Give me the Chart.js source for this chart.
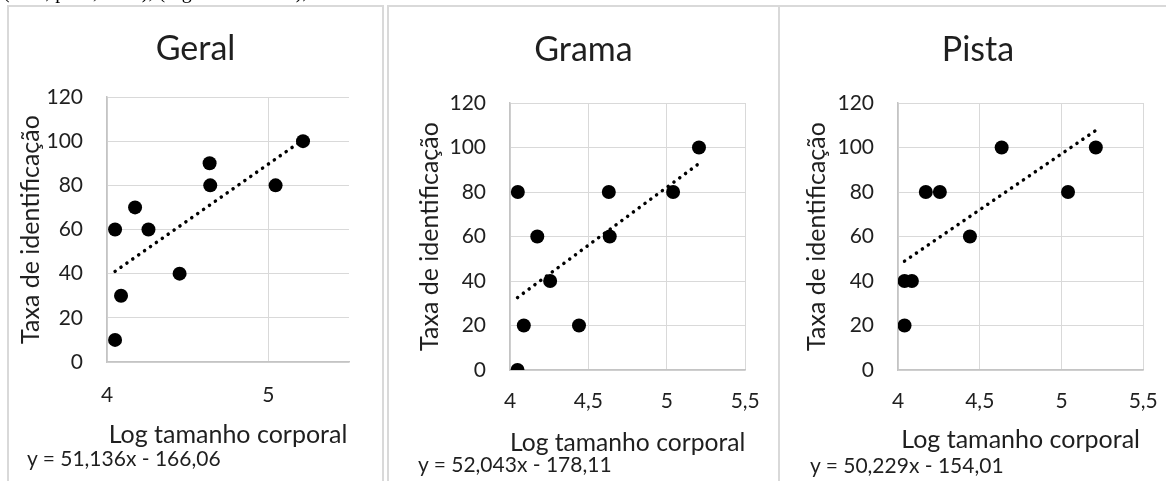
<!DOCTYPE html>
<html>
<head>
<meta charset="utf-8">
<script src="https://cdn.jsdelivr.net/npm/chart.js"></script>
<style>
  body { margin: 0; width: 1166px; height: 481px; overflow: hidden; background: #fff; position: relative; }
  .frame { position: absolute; top: 5px; height: 480px; border: 2px solid #d9d9d9; border-bottom: none; box-sizing: border-box; }
  .box { position: absolute; top: 7px; height: 474px; }
  .eq { position: absolute; font: 21px/24px Lato; color: #1f1f1f; white-space: nowrap; }
  .caption { position: absolute; left: 3px; top: -19.5px; font: 20px/20px "Liberation Serif"; white-space: nowrap; color: #000; will-change: transform; }
</style>
</head>
<body>
<div class="caption">(total, pista, areia), (Figura 10 até 12), e</div>

<div class="frame" style="left:7px;width:377px"></div>
<div class="frame" style="left:387px;width:393px"></div>
<div class="frame" style="left:778px;width:400px"></div>

<div class="box" style="left:9px;width:373px"><canvas id="geral"></canvas></div>
<div class="box" style="left:389px;width:389px"><canvas id="grama"></canvas></div>
<div class="box" style="left:780px;width:396px"><canvas id="pista"></canvas></div>

<div class="eq" id="eqGeral" style="left:27px;top:446px"></div>
<div class="eq" id="eqGrama" style="left:418px;top:452px"></div>
<div class="eq" id="eqPista" style="left:810px;top:453px"></div>

<script>
// dados
const titles = ["Geral", "Grama", "Pista"];

const xGeral = [4.05, 4.087, 4.05, 4.174, 4.257, 4.45, 4.636, 4.64, 5.045, 5.215];
const yGeral = [10, 30, 60, 70, 60, 40, 90, 80, 80, 100];

const xGrama = [4.048, 4.05, 4.088, 4.174, 4.256, 4.44, 4.63, 4.636, 5.04, 5.205];
const yGrama = [0, 80, 20, 60, 40, 20, 80, 60, 80, 100];

const xPista = [4.04, 4.04, 4.085, 4.17, 4.256, 4.44, 4.634, 5.04, 5.21];
const yPista = [20, 40, 40, 80, 80, 60, 100, 80, 100];

// linhas de tendência: y = a*x + b
const slopes = [51.136, 52.043, 50.229];
const intercepts = [-166.06, -178.11, -154.01];

const xTicksGeral = [4, 5];
const xTicksOther = [4, 4.5, 5, 5.5];
const yTicks = [0, 20, 40, 60, 80, 100, 120];

const textColor = '#1f1f1f';
const gridColor = '#d9d9d9';

function fmt(v, d) {
    return v.toFixed(d).replace('.', ',');
}

function makeChart(id, idx, xs, ys, xTicks, L) {
    const a = slopes[idx], b = intercepts[idx];
    const x0 = Math.min(...xs), x1 = Math.max(...xs);
    const pts = xs.map((x, i) => ({ x: x, y: ys[i] }));
    const trend = [{ x: x0, y: a * x0 + b }, { x: x1, y: a * x1 + b }];

    return new Chart(document.getElementById(id), {
        type: 'scatter',
        data: {
            datasets: [
                {
                    data: pts,
                    backgroundColor: '#000',
                    borderWidth: 0,
                    pointRadius: 7,
                    order: 1
                },
                {
                    type: 'line',
                    data: trend,
                    borderColor: '#000',
                    borderWidth: 3.5,
                    borderDash: [0.1, 7.1],
                    borderCapStyle: 'round',
                    pointRadius: 0,
                    fill: false,
                    order: 2
                }
            ]
        },
        options: {
            responsive: true,
            maintainAspectRatio: false,
            animation: false,
            layout: { padding: 0 },
            plugins: {
                legend: { display: false },
                tooltip: { enabled: false },
                title: {
                    display: true,
                    text: titles[idx],
                    color: textColor,
                    font: { family: 'Lato', size: 34, weight: 'normal', lineHeight: 1.2 },
                    padding: { top: L.titleTop, bottom: L.titleBottom }
                }
            },
            scales: {
                x: {
                    type: 'linear',
                    min: 4,
                    max: 5.5,
                    afterBuildTicks: s => { s.ticks = xTicks.map(v => ({ value: v })); },
                    afterFit: s => { s.height = L.xHeight; },
                    grid: { color: gridColor, lineWidth: 1, drawTicks: false },
                    border: { color: '#c4c4c4', width: 1.5 },
                    ticks: {
                        color: textColor,
                        padding: L.xTickPad,
                        font: { family: 'Lato', size: 21 },
                        callback: v => String(v).replace('.', ',')
                    },
                    title: {
                        display: true,
                        text: 'Log tamanho corporal',
                        color: textColor,
                        font: { family: 'Lato', size: 25, lineHeight: 1.2 },
                        padding: { top: 0, bottom: L.xTitlePad }
                    }
                },
                y: {
                    min: 0,
                    max: 120,
                    afterBuildTicks: s => { s.ticks = yTicks.map(v => ({ value: v })); },
                    afterFit: s => { s.width = L.yWidth; },
                    grid: { color: gridColor, lineWidth: 1, drawTicks: false },
                    border: { color: '#c4c4c4', width: 1.5 },
                    ticks: {
                        color: textColor,
                        padding: 24,
                        font: { family: 'Lato', size: 21 }
                    },
                    title: {
                        display: true,
                        text: 'Taxa de identificação',
                        color: textColor,
                        font: { family: 'Lato', size: 25, lineHeight: 1.2 },
                        padding: { top: L.yTitlePad, bottom: 0 }
                    }
                },
                // empty right axis, only keeps a margin so the title stays centred on the panel
                yRight: {
                    position: 'right',
                    afterFit: s => { s.width = L.padRight; },
                    grid: { display: false },
                    border: { display: false },
                    ticks: { display: false }
                }
            }
        }
    });
}

makeChart('geral', 0, xGeral, yGeral, xTicksGeral,
    { padRight: 33, titleTop: 21.6, titleBottom: 27.6, xHeight: 119, xTickPad: 20.4, xTitlePad: 31, yWidth: 98, yTitlePad: 7 });
makeChart('grama', 1, xGrama, yGrama, xTicksOther,
    { padRight: 30, titleTop: 22.6, titleBottom: 32.6, xHeight: 111, xTickPad: 18.2, xTitlePad: 23, yWidth: 121, yTitlePad: 26 });
makeChart('pista', 2, xPista, yPista, xTicksOther,
    { padRight: 30, titleTop: 22.6, titleBottom: 32.6, xHeight: 111, xTickPad: 18.2, xTitlePad: 26, yWidth: 118, yTitlePad: 22 });

['eqGeral', 'eqGrama', 'eqPista'].forEach((id, i) => {
    document.getElementById(id).textContent =
        'y = ' + fmt(slopes[i], 3) + 'x - ' + fmt(-intercepts[i], 2);
});
</script>
</body>
</html>
